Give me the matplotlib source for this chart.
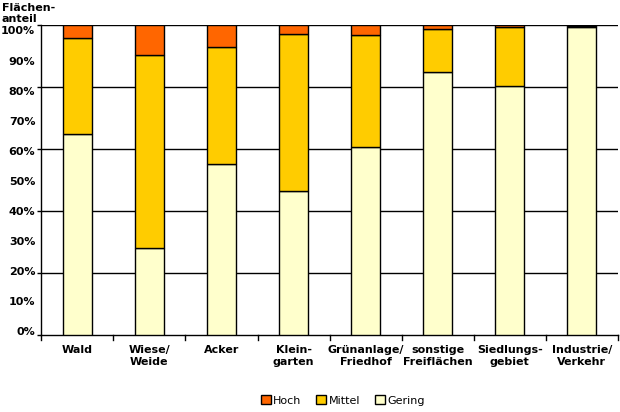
import matplotlib
matplotlib.use("Agg")
import matplotlib.pyplot as plt
import matplotlib.transforms as mtransforms
import numpy as np
from matplotlib.patches import Patch

categories = ["Wald", "Wiese/\nWeide", "Acker", "Klein-\ngarten", "Grünanlage/\nFriedhof",
              "sonstige\nFreiflächen", "Siedlungs-\ngebiet", "Industrie/\nVerkehr"]
gering = [64.8, 28.1, 55.2, 46.5, 60.7, 84.8, 80.3, 99.6]
mittel = [31.2, 62.2, 37.7, 50.6, 36.2, 13.9, 19.1, 0.2]
hoch = [4.0, 9.7, 7.1, 2.9, 3.1, 1.3, 0.6, 0.2]
ytick_labels = ["0%", "10%", "20%", "30%", "40%", "50%", "60%", "70%", "80%", "90%", "100%"]
grid_values = [0, 20, 40, 60, 80, 100]

c_hoch = "#FF6600"
c_mittel = "#FFCC00"
c_gering = "#FFFFCC"

plt.rcParams['font.family'] = ['DejaVu Sans']
fig = plt.figure(figsize=(6.2, 4.12), dpi=100)
ax = fig.add_axes([0.0666, 0.1862, 0.93, 0.7524])

x = np.arange(len(categories))
w = 0.4
g = np.array(gering); m = np.array(mittel); h = np.array(hoch)
ax.bar(x, g, w, color=c_gering, edgecolor="black", linewidth=1.0, zorder=3)
ax.bar(x, m, w, bottom=g, color=c_mittel, edgecolor="black", linewidth=1.0, zorder=3)
ax.bar(x, h, w, bottom=g + m, color=c_hoch, edgecolor="black", linewidth=1.0, zorder=3)

ax.set_xlim(-0.5, len(categories) - 0.5)
ax.set_ylim(0, 100)
for yv in grid_values[1:]:
    ax.axhline(yv, color="black", linewidth=1.0, zorder=1)

ax.set_yticks(grid_values)
ax.set_yticklabels([""] * len(grid_values))
# tick labels spread slightly inside the axis range, as in the original
n = len(ytick_labels) - 1
lab_tr = ax.get_yaxis_transform() + mtransforms.ScaledTranslation(-6 / 100, 0, fig.dpi_scale_trans)
for i, lab in enumerate(ytick_labels):
    ypos = 1.2 + i * (98.0 - 1.2) / n
    ax.text(0, ypos, lab, transform=lab_tr, ha="right", va="center",
            fontsize=8, fontweight="bold")
ax.set_xticks(x)
ax.set_xticklabels(categories, fontsize=8, fontweight="bold", linespacing=1.25)
ax.tick_params(axis="x", length=0, pad=7)
ax.tick_params(axis="y", length=3, width=1, direction="out", pad=2)
for b in np.arange(-0.5, len(categories), 1.0):
    ax.plot([b, b], [0, -1.5], color="black", linewidth=1.0, clip_on=False, zorder=4)

for s in ["top", "right"]:
    ax.spines[s].set_visible(False)
ax.spines["left"].set_linewidth(1.0)
ax.spines["bottom"].set_linewidth(1.0)

fig.text(0.003, 0.992, "Flächen-\nanteil", fontsize=8, fontweight="bold",
         va="top", ha="left", linespacing=1.15)

handles = [Patch(facecolor=c_hoch, edgecolor="black", label="Hoch"),
           Patch(facecolor=c_mittel, edgecolor="black", label="Mittel"),
           Patch(facecolor=c_gering, edgecolor="black", label="Gering")]
fig.legend(handles=handles, loc="center", bbox_to_anchor=(0.553, 0.028), ncol=3,
           frameon=False, fontsize=8, handlelength=0.9, handleheight=0.9,
           handletextpad=0.25, columnspacing=1.3)

fig.savefig("out.png", dpi=100)
